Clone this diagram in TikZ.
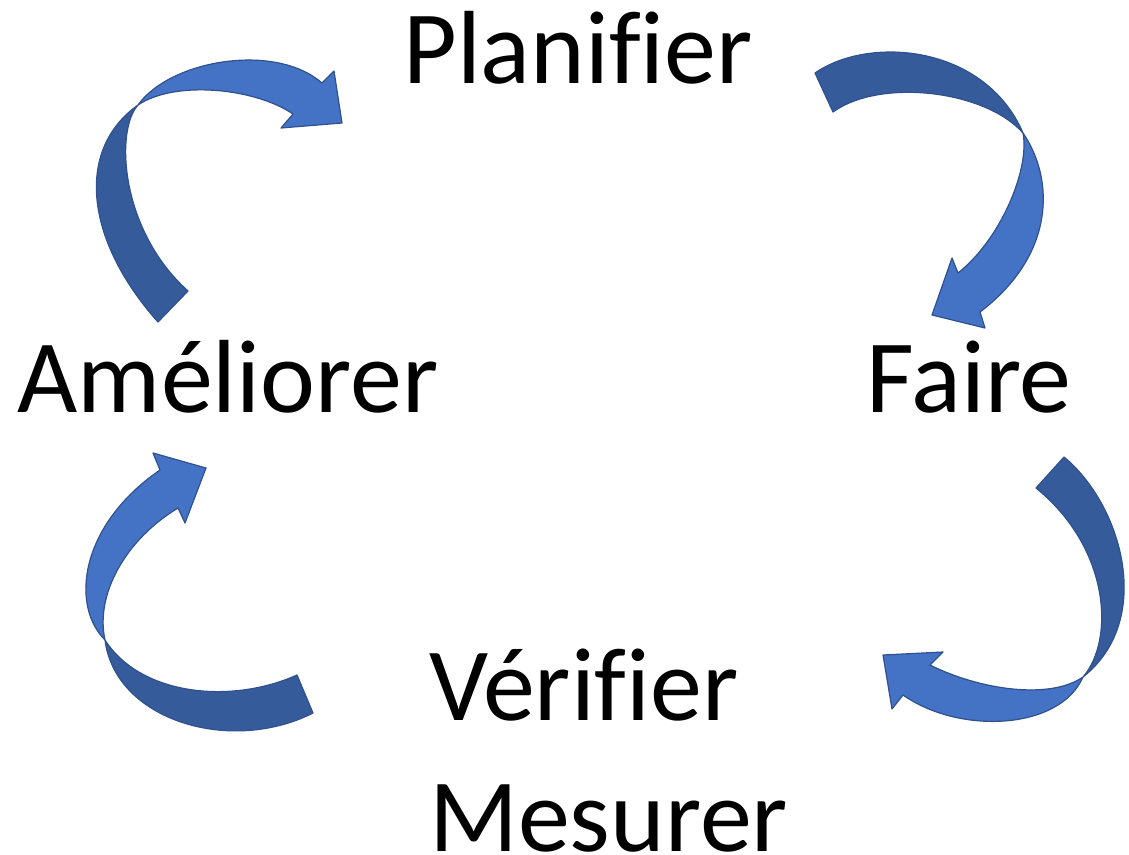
\documentclass[tikz,border=0pt]{standalone}
\usepackage{fontspec}
\setmainfont{Carlito}[Ligatures=CommonOff]
\usetikzlibrary{positioning}

\definecolor{bandfront}{RGB}{68,114,196}
\definecolor{bandback}{RGB}{53,91,155}
\definecolor{bandline}{RGB}{47,82,143}

\tikzset{
    steplabel/.style={inner sep=0pt, font=\fontsize{104}{131}\selectfont},
    backband/.style={fill=bandback, draw=bandline, line width=1.2pt, line join=round},
    frontband/.style={fill=bandfront, draw=bandline, line width=1.2pt, line join=round}
}

\begin{document}
\begin{tikzpicture}[x=1pt, y=-1pt]
    \useasboundingbox (0,0) rectangle (1129,854);

    % the four steps
    \node[steplabel, anchor=base] (plan) at (578,83) {Planifier};
    \node[steplabel, anchor=base] (faire) at (969,412) {Faire};
    \node[steplabel, anchor=base west] (verif) at (429,720) {Vérifier};
    \node[steplabel, anchor=base west] (mesur) at (429,851) {Mesurer};
    \node[steplabel, anchor=base] (amel) at (228,412) {Améliorer};

    % Ameliorer -> Planifier
    \draw[backband] (158,322) .. controls (85,240) and (75,150) .. (138,105)
        .. controls (115,130) and (120,230) .. (188,291) -- cycle;
    \draw[frontband] (138,105) .. controls (170,60) and (275,42) .. (322,83)
        -- (334,71) -- (342,123) -- (281,128) -- (293,114)
        .. controls (255,88) and (175,80) .. (138,105) -- cycle;

    % Planifier -> Faire
    \draw[backband] (815,73) .. controls (870,35) and (985,45) .. (1023,133)
        .. controls (985,90) and (880,78) .. (833,112) -- cycle;
    \draw[frontband] (1023,133) .. controls (1055,180) and (1055,255) .. (980,312)
        -- (985,328) -- (932,315) -- (952,258) -- (958,273)
        .. controls (1000,240) and (1030,170) .. (1023,133) -- cycle;

    % Faire -> Verifier
    \draw[backband] (1064,457) .. controls (1122,505) and (1155,620) .. (1083,677)
        .. controls (1115,640) and (1110,548) .. (1036,488) -- cycle;
    \draw[frontband] (1083,677) .. controls (1060,730) and (960,735) .. (903,695)
        -- (892,709) -- (883,655) -- (943,652) -- (930,665)
        .. controls (980,690) and (1050,700) .. (1083,677) -- cycle;

    % Verifier -> Ameliorer
    \draw[backband] (297,675) .. controls (230,705) and (140,695) .. (105,640)
        .. controls (115,720) and (230,755) .. (313,713) -- cycle;
    \draw[frontband] (105,640) .. controls (70,605) and (80,525) .. (160,470)
        -- (153,453) -- (206,468) -- (185,523) -- (178,508)
        .. controls (125,540) and (95,595) .. (105,640) -- cycle;
\end{tikzpicture}
\end{document}
